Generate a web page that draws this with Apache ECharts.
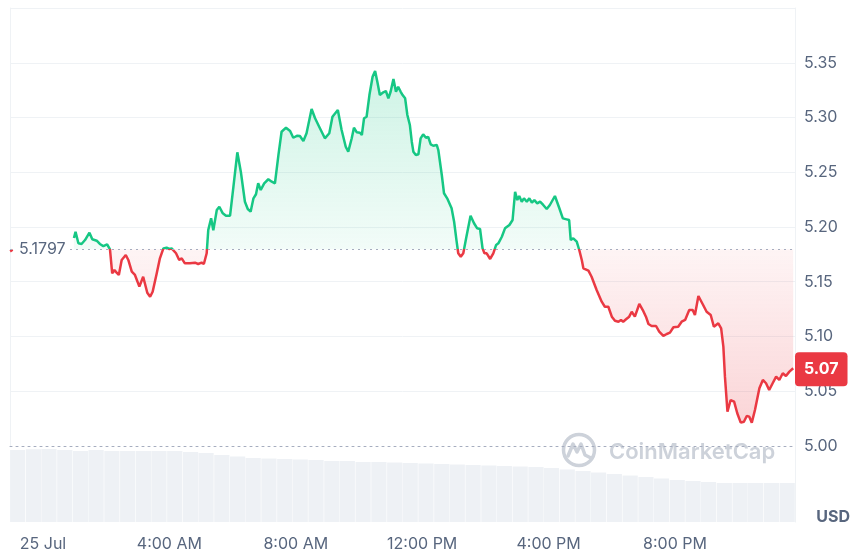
<!DOCTYPE html>
<html>
<head>
<meta charset="utf-8">
<script src="https://cdn.jsdelivr.net/npm/echarts@6/dist/echarts.min.js"></script>
<style>
  html, body { margin: 0; padding: 0; background: #fff; }
  #chart { width: 853px; height: 553px; }
</style>
</head>
<body>
<div id="chart"></div>
<script>
// price over the last 24h, hours relative to 25 Jul 00:00
const baseline = 5.1797;

const hours = [
  -1.04, -0.96, -0.9,
  0.98, 1.03, 1.12, 1.22, 1.33, 1.47, 1.56, 1.70, 1.80, 1.91, 2.03, 2.12,
  2.19, 2.26, 2.33, 2.40, 2.49, 2.62, 2.70, 2.81, 2.91, 3.05, 3.17, 3.30,
  3.39, 3.47, 3.60, 3.70, 3.81, 3.91, 4.00, 4.07, 4.21, 4.31, 4.39, 4.49,
  4.65, 4.81, 4.91, 5.02, 5.09, 5.18, 5.23, 5.32, 5.39, 5.50, 5.58, 5.69,
  5.79, 5.92, 6.02, 6.15, 6.26, 6.39, 6.48, 6.57, 6.66, 6.74, 6.81, 6.89,
  7.00, 7.13, 7.24, 7.34, 7.45, 7.55, 7.69, 7.82, 7.92, 8.05, 8.13, 8.24,
  8.34, 8.50, 8.61, 8.74, 8.92, 9.06, 9.16, 9.33, 9.45, 9.58, 9.66, 9.77,
  9.84, 9.93, 10.03, 10.09, 10.16, 10.24, 10.33, 10.43, 10.51, 10.58, 10.66,
  10.77, 10.85, 10.93, 11.00, 11.09, 11.17, 11.24, 11.32, 11.38, 11.46,
  11.53, 11.61, 11.67, 11.72, 11.80, 11.88, 11.95, 12.03, 12.12, 12.19,
  12.27, 12.35, 12.46, 12.51, 12.62, 12.69, 12.79, 12.93, 13.01, 13.09,
  13.14, 13.22, 13.30, 13.39, 13.53, 13.64, 13.74, 13.83, 13.91, 13.97,
  14.04, 14.15, 14.25, 14.34, 14.41, 14.52, 14.62, 14.76, 14.86, 14.94,
  15.01, 15.07, 15.15, 15.22, 15.31, 15.39, 15.47, 15.55, 15.64, 15.73,
  15.83, 15.94, 16.04, 16.20, 16.34, 16.45, 16.57, 16.65, 16.70, 16.78,
  16.89, 16.97, 17.05, 17.10, 17.15, 17.26, 17.36, 17.52, 17.68, 17.78,
  17.89, 18.00, 18.10, 18.21, 18.29, 18.36, 18.45, 18.55, 18.63, 18.73,
  18.87, 18.98, 19.08, 19.16, 19.26, 19.40, 19.50, 19.63, 19.74, 19.84,
  19.95, 20.10, 20.21, 20.32, 20.45, 20.56, 20.63, 20.74, 20.89, 21.00,
  21.13, 21.23, 21.37, 21.46, 21.53, 21.58, 21.66, 21.76, 21.87, 21.97,
  22.08, 22.18, 22.27, 22.35, 22.43, 22.53, 22.67, 22.78, 22.88, 22.98,
  23.09, 23.20, 23.30, 23.41, 23.51, 23.62, 23.74
];

const prices = [
  5.1778, 5.1792, null,
  5.1899, 5.1957, 5.1851, 5.1845, 5.1881, 5.1948, 5.1888, 5.1875, 5.1845, 5.1826, 5.1842, 5.1796,
  5.1577, 5.1607, 5.1583, 5.1562, 5.1699, 5.1744, 5.1699, 5.1592, 5.1562, 5.1455, 5.1546, 5.1400,
  5.1363, 5.1409, 5.1577, 5.1714, 5.1805, 5.1811, 5.1799, 5.1805, 5.1760, 5.1699, 5.1714, 5.1668,
  5.1668, 5.1674, 5.1662, 5.1674, 5.1662, 5.1760, 5.1973, 5.2079, 5.1970, 5.2155, 5.2185, 5.2125,
  5.2103, 5.2103, 5.2353, 5.2682, 5.2505, 5.2231, 5.2164, 5.2140, 5.2262, 5.2299, 5.2399, 5.2338,
  5.2399, 5.2436, 5.2414, 5.2399, 5.2657, 5.2870, 5.2907, 5.2877, 5.2815, 5.2834, 5.2831, 5.2785,
  5.2856, 5.3078, 5.2993, 5.2916, 5.2810, 5.2856, 5.3007, 5.3068, 5.2886, 5.2733, 5.2688, 5.2810,
  5.2907, 5.2865, 5.2861, 5.2840, 5.2993, 5.3007, 5.3205, 5.3372, 5.3425, 5.3327, 5.3205,
  5.3230, 5.3242, 5.3175, 5.3235, 5.3351, 5.3235, 5.3281, 5.3235, 5.3205, 5.3175,
  5.3023, 5.2931, 5.2779, 5.2688, 5.2657, 5.2664, 5.2810, 5.2846, 5.2815, 5.2824,
  5.2755, 5.2742, 5.2749, 5.2703, 5.2475, 5.2308, 5.2262, 5.2171, 5.2048, 5.1866,
  5.1760, 5.1729, 5.1760, 5.1897, 5.2103, 5.2034, 5.1988, 5.1982, 5.1805, 5.1760,
  5.1760, 5.1708, 5.1760, 5.1836, 5.1851, 5.1911, 5.1988, 5.2018, 5.2064, 5.2322,
  5.2246, 5.2283, 5.2231, 5.2262, 5.2231, 5.2262, 5.2222, 5.2246, 5.2216, 5.2231,
  5.2201, 5.2164, 5.2201, 5.2283, 5.2171, 5.2079, 5.2070, 5.2064, 5.1881, 5.1897,
  5.1866, 5.1790, 5.1699, 5.1623, 5.1607, 5.1601, 5.1546, 5.1425, 5.1318, 5.1272,
  5.1272, 5.1181, 5.1144, 5.1135, 5.1151, 5.1135, 5.1157, 5.1181, 5.1226, 5.1181,
  5.1297, 5.1242, 5.1181, 5.1114, 5.1096, 5.1096, 5.1044, 5.1005, 5.1023, 5.1035,
  5.1084, 5.1089, 5.1135, 5.1151, 5.1242, 5.1242, 5.1196, 5.1370, 5.1288, 5.1226,
  5.1196, 5.1089, 5.1120, 5.1075, 5.0907, 5.0633, 5.0313, 5.0420, 5.0405, 5.0299,
  5.0213, 5.0222, 5.0274, 5.0268, 5.0213, 5.0329, 5.0527, 5.0603, 5.0573, 5.0511,
  5.0573, 5.0633, 5.0603, 5.0664, 5.0639, 5.0679, 5.0710
];

// volume bars (relative scale), bar times in hours
const volHours = [
  -0.80, -0.30, 0.19, 0.69, 1.19, 1.68, 2.18, 2.68, 3.18, 3.67,
  4.17, 4.67, 5.16, 5.66, 6.16, 6.65, 7.15, 7.65, 8.14, 8.64,
  9.14, 9.63, 10.13, 10.63, 11.13, 11.62, 12.12, 12.62, 13.11, 13.61,
  14.11, 14.60, 15.10, 15.60, 16.09, 16.59, 17.09, 17.58, 18.08, 18.58,
  19.08, 19.57, 20.07, 20.57, 21.06, 21.56, 22.06, 22.55, 23.05, 23.55
];
const volumes = [
  75.8, 76.5, 76.8, 75.8, 74.7, 75.8, 74.7, 74.7, 74.7, 74.7,
  74.7, 73.7, 72.6, 70.5, 69.0, 67.4, 66.8, 66.3, 65.8, 65.3,
  64.2, 64.2, 63.2, 63.2, 62.6, 62.1, 61.6, 61.1, 60.5, 60.0,
  59.5, 58.9, 58.4, 57.9, 56.8, 55.3, 53.7, 52.1, 50.5, 48.9,
  47.4, 45.8, 44.2, 43.2, 42.1, 41.1, 41.1, 41.1, 41.1, 41.1
];

const timeTicks = [0, 4, 8, 12, 16, 20];
const timeLabels = ['25 Jul', '4:00 AM', '8:00 AM', '12:00 PM', '4:00 PM', '8:00 PM'];
const xMin = -1.044;
const xMax = 23.797;

const green = '#16c784';
const red = '#ea3943';
const textGray = '#58667e';
const gridGray = '#eff2f5';
const font = 'Inter';

const lineData = hours.map((h, i) => [h, prices[i]]);
const upData = hours.map((h, i) => [h, prices[i] == null ? null : Math.max(prices[i], baseline)]);
const downData = hours.map((h, i) => [h, prices[i] == null ? null : Math.min(prices[i], baseline)]);
const volData = volHours.map((h, i) => [h, volumes[i]]);
const lastPrice = prices[prices.length - 1];

const chart = echarts.init(document.getElementById('chart'));

const option = {
  animation: false,
  textStyle: { fontFamily: font },
  title: {
    text: 'USD',
    right: 3,
    top: 509,
    padding: 0,
    textStyle: { fontFamily: font, fontSize: 16, fontWeight: 'bold', color: textGray }
  },
  grid: [
    { left: 10, right: 58, top: 8, height: 438 },
    { left: 10, right: 58, top: 446, height: 76 }
  ],
  xAxis: [
    {
      gridIndex: 0, type: 'value', min: xMin, max: xMax,
      axisLine: { show: true, onZero: false, lineStyle: { color: '#a6adbf', type: [2, 4], width: 1 } },
      axisTick: { show: false },
      axisLabel: { show: false },
      splitLine: { show: false }
    },
    {
      gridIndex: 1, type: 'value', min: xMin, max: xMax,
      axisLine: { show: false },
      axisTick: { show: false },
      splitLine: { show: false },
      axisLabel: {
        customValues: timeTicks,
        formatter: (v) => timeLabels[timeTicks.indexOf(v)] || '',
        color: textGray,
        fontSize: 16,
        fontFamily: font,
        margin: 14
      }
    }
  ],
  yAxis: [
    {
      gridIndex: 0, type: 'value', position: 'right',
      min: 5.0, max: 5.4, interval: 0.05,
      axisLine: { show: true, onZero: false, lineStyle: { color: gridGray } },
      axisTick: { show: false },
      axisLabel: {
        formatter: (v) => v.toFixed(2),
        showMaxLabel: false,
        color: textGray,
        fontSize: 16,
        fontFamily: font,
        margin: 9
      },
      splitLine: { show: true, showMinLine: false, lineStyle: { color: gridGray } }
    },
    {
      gridIndex: 0, type: 'value', position: 'left',
      min: 5.0, max: 5.4,
      axisLine: { show: true, onZero: false, lineStyle: { color: gridGray } },
      axisTick: { show: false },
      axisLabel: { show: false },
      splitLine: { show: false }
    },
    {
      gridIndex: 1, type: 'value', position: 'right',
      min: 0, max: 80,
      axisLine: { show: true, onZero: false, lineStyle: { color: gridGray } },
      axisTick: { show: false },
      axisLabel: { show: false },
      splitLine: { show: false }
    }
  ],
  visualMap: {
    type: 'piecewise',
    show: false,
    seriesIndex: 3,
    dimension: 1,
    pieces: [
      { gte: 0, lte: baseline, color: red },
      { gt: baseline, lte: 100, color: green }
    ]
  },
  graphic: [
    {
      type: 'circle',
      shape: { cx: 579, cy: 450, r: 15.5 },
      style: { fill: 'none', stroke: '#cdd2da', lineWidth: 3.5 },
      silent: true
    },
    {
      type: 'polyline',
      shape: { points: [[568, 456], [573, 444], [577, 452], [581, 444], [585, 455], [591, 458]] },
      style: { fill: 'none', stroke: '#cdd2da', lineWidth: 3.5, lineJoin: 'round', lineCap: 'round' },
      silent: true
    },
    {
      type: 'text',
      x: 609,
      y: 452,
      style: {
        text: 'CoinMarketCap',
        fill: '#cdd2da',
        font: '600 22px Inter',
        verticalAlign: 'middle'
      },
      silent: true
    }
  ],
  series: [
    {
      type: 'bar',
      xAxisIndex: 1,
      yAxisIndex: 2,
      data: volData,
      barWidth: 15.2,
      itemStyle: { color: '#eef1f5' },
      silent: true
    },
    {
      type: 'line',
      xAxisIndex: 0,
      yAxisIndex: 0,
      data: upData,
      symbol: 'none',
      lineStyle: { width: 0 },
      areaStyle: {
        origin: baseline,
        color: new echarts.graphic.LinearGradient(0, 0, 0, 1, [
          { offset: 0, color: 'rgba(22,199,132,0.30)' },
          { offset: 1, color: 'rgba(22,199,132,0.08)' }
        ])
      },
      silent: true
    },
    {
      type: 'line',
      xAxisIndex: 0,
      yAxisIndex: 0,
      data: downData,
      symbol: 'none',
      lineStyle: { width: 0 },
      areaStyle: {
        origin: baseline,
        color: new echarts.graphic.LinearGradient(0, 0, 0, 1, [
          { offset: 0, color: 'rgba(234,57,67,0.08)' },
          { offset: 1, color: 'rgba(234,57,67,0.30)' }
        ])
      },
      silent: true
    },
    {
      type: 'line',
      xAxisIndex: 0,
      yAxisIndex: 0,
      data: lineData,
      symbol: 'none',
      clip: false,
      connectNulls: false,
      lineStyle: { width: 2.5 },
      z: 4,
      markLine: {
        silent: true,
        symbol: ['none', 'none'],
        animation: false,
        data: [
          {
            yAxis: baseline,
            lineStyle: { color: '#a6adbf', type: [2, 4], width: 1 },
            label: {
              show: true,
              position: 'insideStart',
              formatter: baseline.toFixed(4),
              color: textGray,
              fontSize: 16,
              fontFamily: font,
              backgroundColor: '#fff',
              padding: [2, 4]
            }
          },
          {
            yAxis: lastPrice,
            lineStyle: { color: 'rgba(0,0,0,0)', width: 0 },
            label: {
              show: true,
              position: 'end',
              distance: 0,
              formatter: lastPrice.toFixed(2),
              color: '#fff',
              fontSize: 16,
              fontWeight: 'bold',
              fontFamily: font,
              backgroundColor: red,
              borderRadius: 4,
              padding: [9, 9]
            }
          }
        ]
      }
    }
  ]
};

chart.setOption(option);
</script>
</body>
</html>
